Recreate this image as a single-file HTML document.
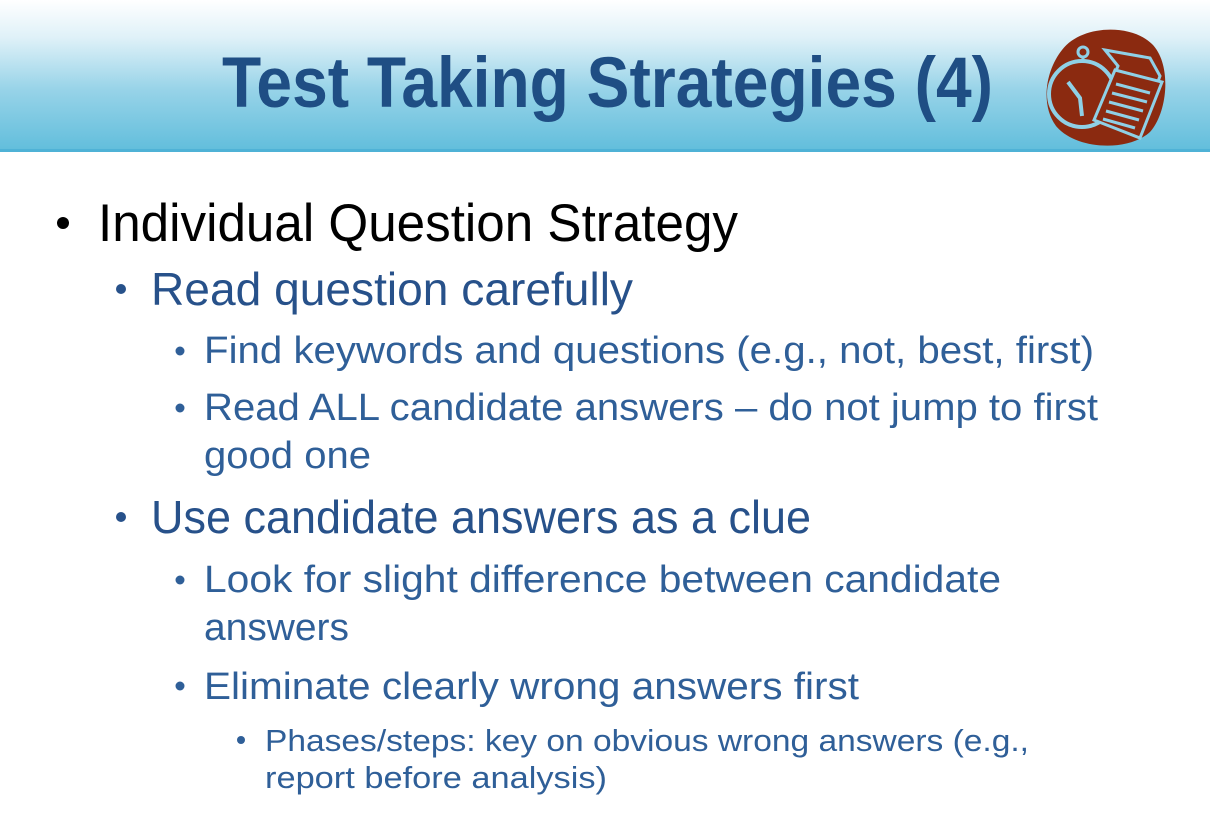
<!DOCTYPE html>
<html><head><meta charset="utf-8"><style>
html,body{margin:0;padding:0;background:#fff;}
svg{display:block;}
text{font-family:"Liberation Sans",sans-serif;}
</style></head><body>
<svg width="1210" height="837" viewBox="0 0 1210 837">
<defs>
<linearGradient id="hg" x1="0" y1="0" x2="0" y2="1">
<stop offset="0" stop-color="#ffffff"/>
<stop offset="0.25" stop-color="#dff1f8"/>
<stop offset="0.6" stop-color="#97d3e8"/>
<stop offset="1" stop-color="#62bedc"/>
</linearGradient>
</defs>
<rect x="0" y="0" width="1210" height="150" fill="url(#hg)"/>
<rect x="0" y="149" width="1210" height="3" fill="#4fb2d6"/>
<text x="222" y="107" font-size="71" font-weight="bold" fill="#1f4e84" textLength="771" lengthAdjust="spacingAndGlyphs">Test Taking Strategies (4)</text>
<g>
<path d="M1062 50 C1082 24 1132 24 1152 44 C1172 64 1168 112 1150 132 C1128 152 1076 150 1056 126 C1040 104 1046 70 1062 50 Z" fill="#8b2a10"/>
<circle cx="1082" cy="94" r="33" fill="none" stroke="#8fd0e6" stroke-width="4"/>
<circle cx="1083" cy="52" r="5" fill="none" stroke="#8fd0e6" stroke-width="3"/>
<line x1="1083" y1="57" x2="1083" y2="61" stroke="#8fd0e6" stroke-width="3"/>
<polyline points="1068,82 1080,98 1082,116" fill="none" stroke="#8fd0e6" stroke-width="4"/>
<polygon points="1105,50 1150,58 1160,76 1138,136 1096,118 1118,66" fill="#8b2a10" stroke="#8fd0e6" stroke-width="3"/>
<polygon points="1115,70 1162,82 1140,138 1094,120" fill="#8b2a10" stroke="#8fd0e6" stroke-width="3"/>
<g stroke="#8fd0e6" stroke-width="3">
<line x1="1116" y1="84" x2="1150" y2="93"/>
<line x1="1112" y1="93" x2="1147" y2="102"/>
<line x1="1109" y1="102" x2="1143" y2="111"/>
<line x1="1106" y1="111" x2="1139" y2="120"/>
<line x1="1103" y1="119" x2="1135" y2="128"/>
</g>
</g>
<g>
<circle cx="63" cy="223" r="6" fill="#000"/>
<text x="98" y="241" font-size="53" fill="#000" textLength="640" lengthAdjust="spacingAndGlyphs">Individual Question Strategy</text>

<circle cx="121" cy="289" r="5" fill="#27518a"/>
<text x="151" y="305" font-size="46" fill="#27518a" textLength="482" lengthAdjust="spacingAndGlyphs">Read question carefully</text>

<circle cx="180" cy="351" r="4.5" fill="#2f5f98"/>
<text x="204" y="363" font-size="38" fill="#2f5f98" textLength="890" lengthAdjust="spacingAndGlyphs">Find keywords and questions (e.g., not, best, first)</text>

<circle cx="180" cy="408" r="4.5" fill="#2f5f98"/>
<text x="204" y="420" font-size="38" fill="#2f5f98" textLength="894" lengthAdjust="spacingAndGlyphs">Read ALL candidate answers – do not jump to first</text>
<text x="204" y="468" font-size="38" fill="#2f5f98" textLength="167" lengthAdjust="spacingAndGlyphs">good one</text>

<circle cx="121" cy="517" r="5" fill="#27518a"/>
<text x="151" y="533" font-size="46" fill="#27518a" textLength="660" lengthAdjust="spacingAndGlyphs">Use candidate answers as a clue</text>

<circle cx="180" cy="580" r="4.5" fill="#2f5f98"/>
<text x="204" y="592" font-size="38" fill="#2f5f98" textLength="797" lengthAdjust="spacingAndGlyphs">Look for slight difference between candidate</text>
<text x="204" y="640" font-size="38" fill="#2f5f98" textLength="145" lengthAdjust="spacingAndGlyphs">answers</text>

<circle cx="180" cy="686" r="4.5" fill="#2f5f98"/>
<text x="204" y="699" font-size="38" fill="#2f5f98" textLength="655" lengthAdjust="spacingAndGlyphs">Eliminate clearly wrong answers first</text>

<circle cx="241" cy="740" r="4" fill="#2f5f98"/>
<text x="265" y="751" font-size="31" fill="#2f5f98" textLength="764" lengthAdjust="spacingAndGlyphs">Phases/steps: key on obvious wrong answers (e.g.,</text>
<text x="265" y="788" font-size="31" fill="#2f5f98" textLength="342" lengthAdjust="spacingAndGlyphs">report before analysis)</text>
</g>
</svg>
</body></html>
